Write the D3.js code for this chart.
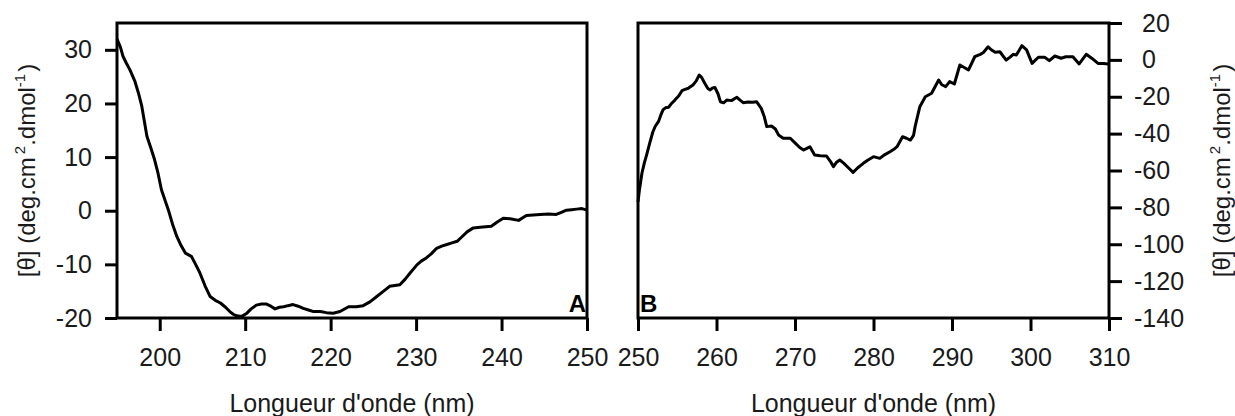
<!DOCTYPE html>
<html>
<head>
<meta charset="utf-8">
<script src="https://cdn.jsdelivr.net/npm/d3@7"></script>
<style>
  html, body { margin: 0; padding: 0; background: #fff; }
  svg { display: block; font-family: "Liberation Sans", Arial, sans-serif; }
</style>
</head>
<body>
<svg id="chart" width="1235" height="416"></svg>
<script>
// ---- Data ----
const wavelengthA = [195.0,195.4,195.7,196.1,196.5,197.1,197.5,197.9,198.5,199.0,199.4,199.8,200.2,201.0,201.5,202.0,202.5,203.0,203.7,204.2,204.7,205.3,205.9,206.5,207.1,207.7,208.2,208.6,209.0,209.6,210.2,210.7,211.3,211.9,212.5,213.0,213.5,214.0,214.5,215.0,215.6,216.2,216.8,217.4,218.0,218.8,219.5,220.3,221.1,222.1,223.0,223.8,224.6,225.4,226.2,226.9,228.1,228.7,229.3,230.1,230.6,231.2,231.8,232.4,233.0,233.6,234.2,234.8,235.4,236.0,236.7,237.5,238.8,239.5,240.2,241.0,242.0,242.9,243.7,244.5,245.5,246.4,247.0,247.6,248.2,248.8,249.4,250.0];
const thetaA = [32.0,30.5,28.8,27.5,26.3,24.1,22.0,19.5,13.9,11.5,9.5,7.0,3.9,0.2,-2.5,-4.8,-6.5,-7.9,-8.5,-10.0,-11.6,-14.0,-16.0,-16.7,-17.2,-18.0,-18.8,-19.3,-19.6,-19.7,-19.1,-18.3,-17.6,-17.4,-17.4,-17.8,-18.3,-18.0,-17.9,-17.7,-17.5,-17.8,-18.2,-18.5,-18.8,-18.8,-19.0,-19.1,-18.8,-17.9,-17.9,-17.7,-17.0,-16.0,-15.0,-14.1,-13.8,-12.8,-11.6,-10.1,-9.4,-8.8,-8.0,-7.0,-6.6,-6.3,-6.0,-5.7,-4.8,-3.9,-3.2,-3.1,-2.9,-2.1,-1.4,-1.5,-1.8,-0.9,-0.8,-0.7,-0.6,-0.7,-0.3,0.1,0.2,0.3,0.4,0.1];

const wavelengthB = [250.0,250.2,250.5,250.8,251.1,251.5,251.9,252.2,252.6,252.9,253.2,253.5,253.9,254.3,254.7,255.2,255.6,256.0,256.4,257.0,257.4,257.8,258.1,258.5,258.9,259.2,259.5,259.8,260.2,260.5,260.9,261.3,261.9,262.6,263.0,263.4,264.0,264.6,265.1,265.7,266.1,266.4,267.0,267.5,267.9,268.5,269.4,270.0,270.6,271.1,271.5,271.9,272.5,273.2,274.0,274.5,274.9,275.3,275.7,276.2,276.8,277.4,278.0,278.7,279.3,280.0,280.8,281.4,282.1,282.6,283.0,283.7,284.2,284.7,285.1,285.3,285.9,286.6,287.4,288.3,288.7,289.2,289.7,290.3,291.0,291.5,292.1,292.9,293.6,294.0,294.6,295.0,295.5,296.1,296.9,297.4,297.8,298.2,298.9,299.5,300.2,301.0,301.8,302.4,303.1,303.9,304.5,305.4,306.2,307.1,307.8,308.6,309.3,309.9];
const thetaB = [-77,-70,-61.5,-56,-51.5,-45,-39,-36,-33.5,-30,-27,-26,-25.7,-23.5,-21.8,-19.5,-16.7,-16.0,-15.4,-13.6,-11.5,-8.2,-9.5,-12.7,-15.5,-16.3,-15.2,-15.0,-18.5,-22.7,-23.3,-21.8,-22.1,-20.3,-21.8,-23.2,-22.8,-23.0,-22.7,-26.3,-31,-36.2,-35.9,-37.5,-40.7,-42.5,-42.5,-45,-47.5,-48.9,-48.0,-47.1,-51.6,-52.0,-52.1,-55,-57.9,-55.5,-54.3,-56,-58.5,-61.0,-58.5,-56.1,-54.3,-52.5,-53.4,-51.5,-49.8,-48.5,-47.1,-41.7,-42.5,-43.5,-41,-36.2,-25.4,-20.0,-18.1,-10.9,-13.5,-14.5,-11.8,-13.1,-2.8,-4,-5.5,1.7,3.0,4,7.1,5.5,4.1,4.4,-0.1,1.5,3.0,2.6,7.7,5.4,-1.9,1.4,1.4,-0.4,2.1,0.9,1.7,1.7,-2.2,3.0,0.9,-1.9,-2.0,-2.2];

const xTicksA = [200, 210, 220, 230, 240, 250];
const yTicksA = [30, 20, 10, 0, -10, -20];
const xTicksB = [250, 260, 270, 280, 290, 300, 310];
const yTicksB = [20, 0, -20, -40, -60, -80, -100, -120, -140];
const xTitle = "Longueur d'onde (nm)";
const panelLabels = ["A", "B"];

// ---- Layout ----
const svg = d3.select("#chart");
const yTopPx = 23, yBottomPx = 318;
const xA = d3.scaleLinear().domain([195, 250]).range([117, 587]);
const yA = d3.scaleLinear().domain([-20, 35]).range([yBottomPx, yTopPx]);
const xB = d3.scaleLinear().domain([250, 310]).range([638, 1109]);
const yB = d3.scaleLinear().domain([-140, 20]).range([yBottomPx, yTopPx]);
const SW = 3;
const FS = 25;
const txtColor = "#1a1a1a";

function styleAxis(g) {
  g.select(".domain").remove();
  g.selectAll(".tick line").attr("stroke", "#000").attr("stroke-width", SW);
  g.selectAll(".tick text").attr("fill", txtColor).style("font-size", FS + "px")
    .style("font-family", '"Liberation Sans", Arial, sans-serif');
}

// Panel A axes
svg.append("g").attr("transform", `translate(0,${yBottomPx})`)
  .call(d3.axisBottom(xA).tickValues(xTicksA).tickSize(13).tickPadding(17).tickFormat(d => String(d)))
  .call(styleAxis);
svg.append("g").attr("transform", `translate(${xA.range()[0]},0)`)
  .call(d3.axisLeft(yA).tickValues(yTicksA).tickSize(12).tickPadding(13).tickFormat(d => String(d)))
  .call(styleAxis);

// Panel B axes
svg.append("g").attr("transform", `translate(0,${yBottomPx})`)
  .call(d3.axisBottom(xB).tickValues(xTicksB).tickSize(13).tickPadding(17).tickFormat(d => String(d)))
  .call(styleAxis);
const gyB = svg.append("g").attr("transform", `translate(${xB.range()[1]},0)`)
  .call(d3.axisRight(yB).tickValues(yTicksB).tickSize(13).tickPadding(20).tickFormat(d => String(d)))
  .call(styleAxis);
// digits aligned, minus sign hangs left
gyB.selectAll(".tick text").attr("x", d => d < 0 ? 33 - 8 : 33);

// Frames
[[xA, yA], [xB, yB]].forEach(([x, y]) => {
  svg.append("rect")
    .attr("x", x.range()[0]).attr("y", y.range()[1])
    .attr("width", x.range()[1] - x.range()[0])
    .attr("height", y.range()[0] - y.range()[1])
    .attr("fill", "none").attr("stroke", "#000").attr("stroke-width", SW);
});

// Curves
const lineA = d3.line().x(d => xA(d[0])).y(d => yA(d[1]));
const lineB = d3.line().x(d => xB(d[0])).y(d => yB(d[1]));
svg.append("path").datum(d3.zip(wavelengthA, thetaA)).attr("d", lineA)
  .attr("fill", "none").attr("stroke", "#000").attr("stroke-width", SW).attr("stroke-linejoin", "round");
svg.append("path").datum(d3.zip(wavelengthB, thetaB)).attr("d", lineB)
  .attr("fill", "none").attr("stroke", "#000").attr("stroke-width", SW).attr("stroke-linejoin", "round");

// Panel labels
svg.append("text").attr("x", 586).attr("y", 312).attr("text-anchor", "end")
  .style("font-size", "24px").style("font-weight", "bold").attr("fill", "#000").text(panelLabels[0]);
svg.append("text").attr("x", 640).attr("y", 312).attr("text-anchor", "start")
  .style("font-size", "24px").style("font-weight", "bold").attr("fill", "#000").text(panelLabels[1]);

// X titles
[(117 + 587) / 2, (638 + 1109) / 2].forEach(cx => {
  svg.append("text").attr("x", cx).attr("y", 412).attr("text-anchor", "middle")
    .style("font-size", FS + "px").attr("fill", txtColor).text(xTitle);
});

// Y titles
function yTitle(x) {
  const t = svg.append("text")
    .attr("transform", `translate(${x},${(yTopPx + yBottomPx) / 2}) rotate(-90)`)
    .attr("text-anchor", "middle").style("font-size", "24px").attr("fill", txtColor);
  t.append("tspan").text("[θ] (deg.cm");
  t.append("tspan").attr("dx", 3).attr("dy", -10).style("font-size", "15px").text("2");
  t.append("tspan").attr("dy", 10).text(".dmol");
  t.append("tspan").attr("dy", -10).style("font-size", "15px").text("-1");
  t.append("tspan").attr("dx", 2).attr("dy", 10).text(")");
}
yTitle(35);
yTitle(1230);
</script>
</body>
</html>
